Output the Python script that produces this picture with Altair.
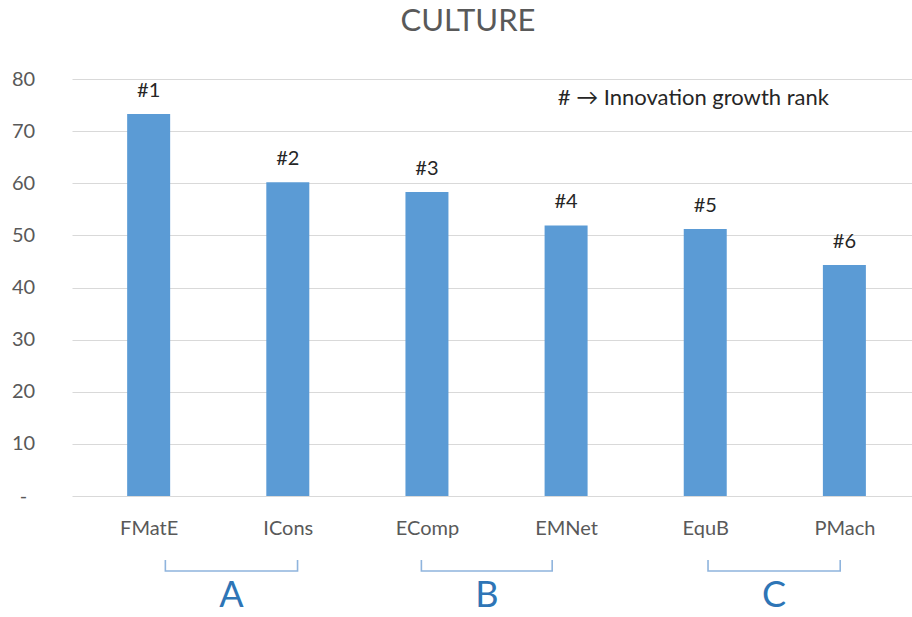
import altair as alt
import pandas as pd

# ---- data ----
categories = ["FMatE", "ICons", "EComp", "EMNet", "EquB", "PMach"]
values = [73.3, 60.2, 58.3, 51.9, 51.2, 44.3]
ranks = ["#1", "#2", "#3", "#4", "#5", "#6"]
y_ticks = [0, 10, 20, 30, 40, 50, 60, 70, 80]

groups = ["A", "B", "C"]
group_start = [0.12, 1.96, 4.02]   # in category-index units
group_end = [1.07, 2.90, 4.97]

note_text = "# \u2192 Innovation growth rank"
note_x, note_y = 2.94, 76.4
bracket_top, bracket_bottom, letter_y = -12.3, -14.4, -19.2

FONT = "Lato"
BLUE = "#5B9BD5"

bars_df = pd.DataFrame({
    "idx": list(range(len(categories))),
    "cat": categories,
    "value": values,
    "rank": ranks,
})

# bracket paths (U shapes)
rows = []
for g, s, e in zip(groups, group_start, group_end):
    rows += [
        {"g": g, "o": 0, "x": s, "y": bracket_top},
        {"g": g, "o": 1, "x": s, "y": bracket_bottom},
        {"g": g, "o": 2, "x": e, "y": bracket_bottom},
        {"g": g, "o": 3, "x": e, "y": bracket_top},
    ]
brackets_df = pd.DataFrame(rows)
letters_df = pd.DataFrame({
    "g": groups,
    "x": [(s + e) / 2 for s, e in zip(group_start, group_end)],
    "y": [letter_y] * len(groups),
})
note_df = pd.DataFrame({"t": [note_text], "x": [note_x], "y": [note_y]})

label_array = "[" + ",".join("'%s'" % c for c in categories) + "]"

x_scale = alt.Scale(domain=[-0.515, 5.45], nice=False, zero=False)
y_scale = alt.Scale(domain=[0, 80], nice=False)

x_enc = alt.X(
    "idx:Q",
    scale=x_scale,
    axis=alt.Axis(
        values=list(range(len(categories))),
        labelExpr=label_array + "[datum.value]",
        title=None,
        grid=False,
        domain=False,
        ticks=False,
        tickSize=0,
        labelPadding=22,
        labelFont=FONT,
        labelFontSize=20,
        labelColor="#595959",
    ),
)
y_enc = alt.Y(
    "value:Q",
    scale=y_scale,
    axis=alt.Axis(
        values=y_ticks,
        labelExpr="datum.value == 0 ? '-' : datum.label",
        title=None,
        grid=True,
        gridColor="#D9D9D9",
        gridWidth=1.2,
        domain=False,
        ticks=False,
        tickSize=0,
        labelAlign="center",
        labelPadding=49,
        labelFont=FONT,
        labelFontSize=20,
        labelColor="#595959",
    ),
)

bars = alt.Chart(bars_df).mark_bar(size=43, color=BLUE).encode(x=x_enc, y=y_enc)

rank_labels = alt.Chart(bars_df).mark_text(
    dy=-17, baseline="alphabetic", align="center",
    font=FONT, fontSize=20, color="#262626",
).encode(x="idx:Q", y="value:Q", text="rank:N")

note = alt.Chart(note_df).mark_text(
    align="left", baseline="middle", font=FONT, fontSize=22, color="#262626",
).encode(x="x:Q", y="y:Q", text="t:N")

bracket_lines = alt.Chart(brackets_df).mark_line(
    color="#8FB4DD", strokeWidth=1.6
).encode(x="x:Q", y="y:Q", detail="g:N", order="o:Q")

letters = alt.Chart(letters_df).mark_text(
    align="center", baseline="middle", font=FONT, fontSize=36, color="#2E75B6",
).encode(x="x:Q", y="y:Q", text="g:N")

chart = alt.layer(bars, rank_labels, note, bracket_lines, letters).properties(
    width=840,
    height=417,
    title=alt.TitleParams(
        text="CULTURE", font=FONT, fontSize=31, fontWeight="normal",
        color="#595959", anchor="middle", dx=-24, offset=31,
    ),
    autosize=alt.AutoSizeParams(type="none"),
    padding={"left": 72, "top": 79, "right": 0, "bottom": 121},
    background="white",
).configure_view(stroke=None)

chart.save("out.html", embed_options={"renderer": "svg", "actions": False})
